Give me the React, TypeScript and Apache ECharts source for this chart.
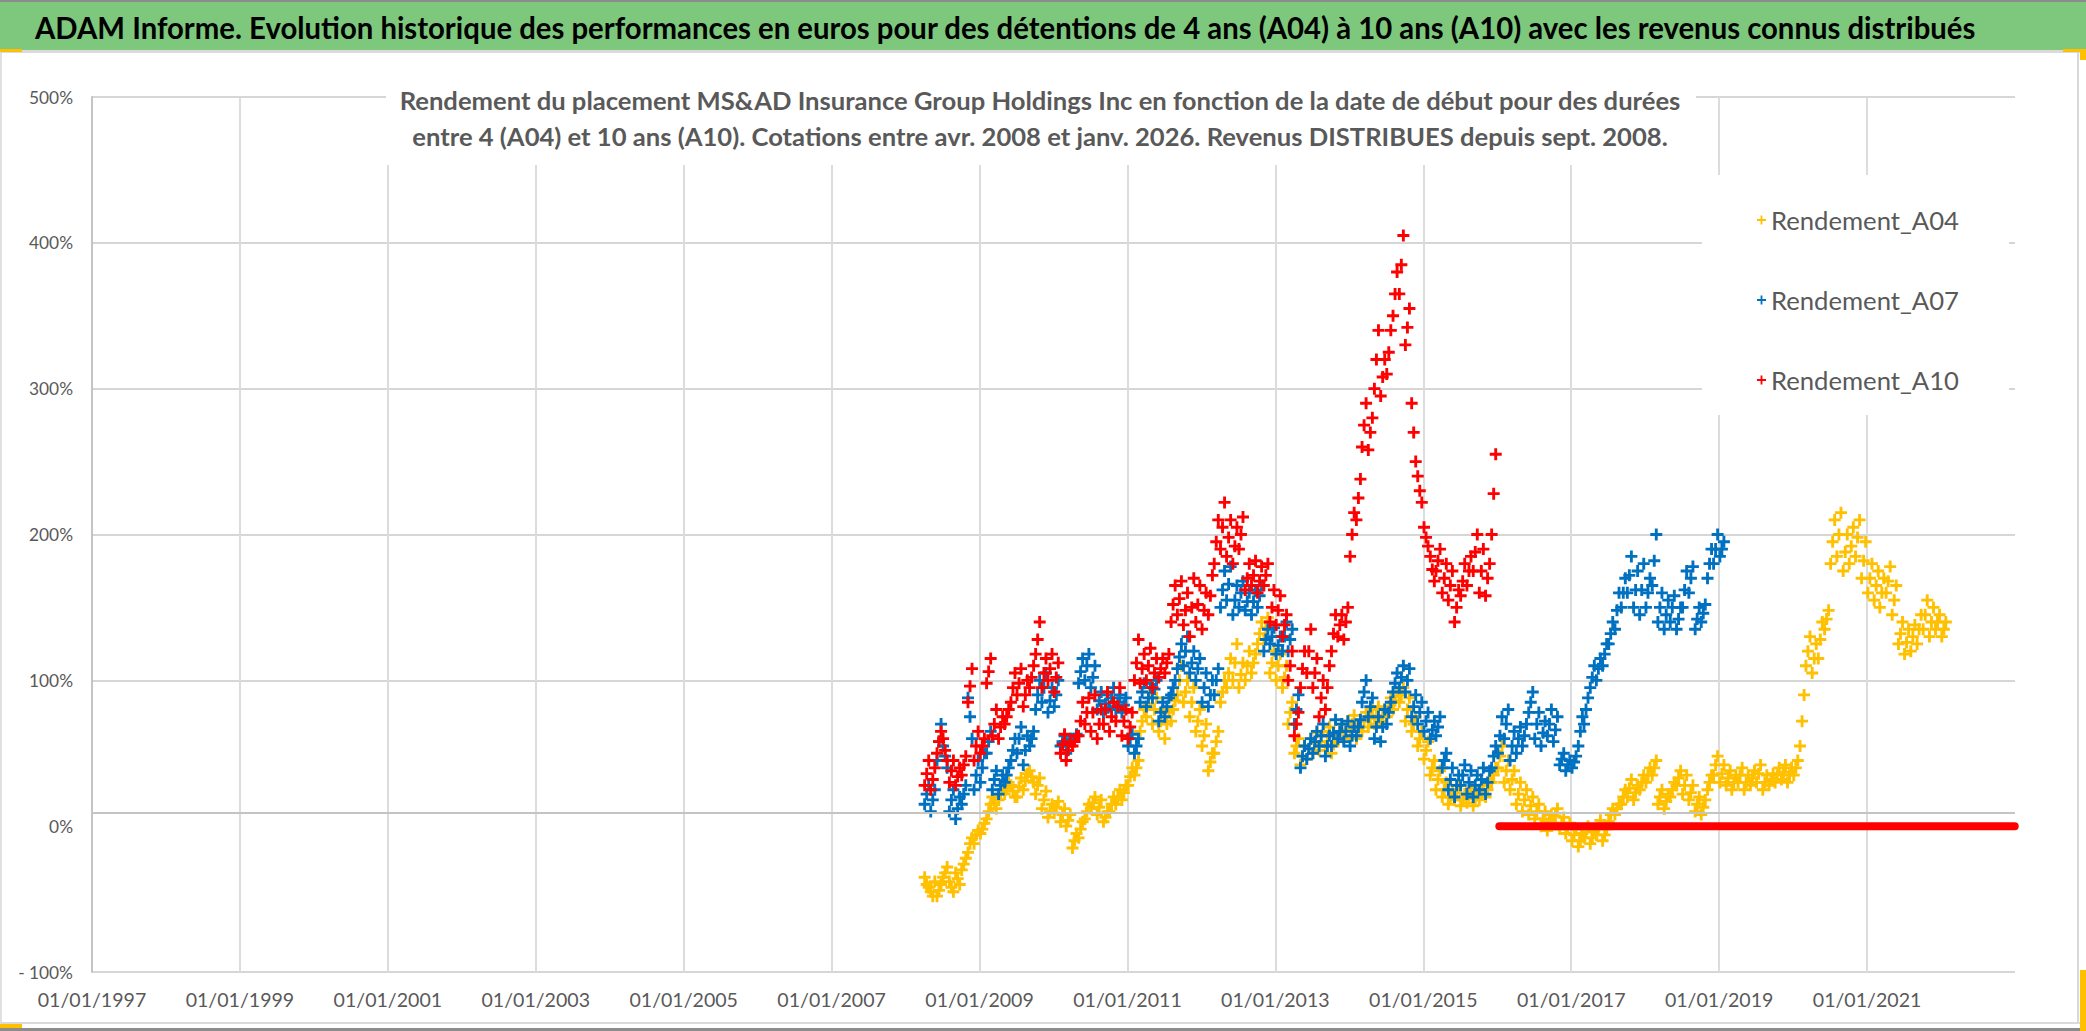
import React, { useEffect, useRef } from 'react';
import * as echarts from 'echarts';

// ---- data: month, then three readings (early / mid / late month), in % ----
type Row = [string, number, number, number];

const A04: Row[] = [
  ['2008-04', -35, -40, -42], ['2008-05', -45, -48, -38], ['2008-06', -48, -44, -40], ['2008-07', -35, -32, -28],
  ['2008-08', -38, -42, -45], ['2008-09', -32, -36, -40], ['2008-10', -30, -26, -22], ['2008-11', -18, -12, -8],
  ['2008-12', -12, -6, -3], ['2009-01', -5, -2, 2], ['2009-02', 5, 10, 15], ['2009-03', 20, 16, 12],
  ['2009-04', 18, 22, 25], ['2009-05', 22, 26, 30], ['2009-06', 28, 24, 20], ['2009-07', 20, 27, 33],
  ['2009-08', 25, 31, 36], ['2009-09', 38, 34, 30], ['2009-10', 22, 28, 33], ['2009-11', 12, 18, 24],
  ['2009-12', 6, 10, 15], ['2010-01', 9, 13, 17], ['2010-02', 3, 8, 12], ['2010-03', 0, 4, 8],
  ['2010-04', -15, -10, -5], ['2010-05', -8, -2, 3], ['2010-06', 5, 10, 15], ['2010-07', 12, 16, 20],
  ['2010-08', 8, 13, 18], ['2010-09', 3, 6, 10], ['2010-10', 10, 15, 20], ['2010-11', 15, 20, 25],
  ['2010-12', 18, 23, 28], ['2011-01', 28, 34, 40], ['2011-02', 35, 40, 45], ['2011-03', 65, 72, 80],
  ['2011-04', 75, 84, 92], ['2011-05', 70, 80, 88], ['2011-06', 65, 72, 80], ['2011-07', 60, 70, 78],
  ['2011-08', 72, 80, 86], ['2011-09', 90, 100, 110], ['2011-10', 85, 92, 100], ['2011-11', 75, 85, 95],
  ['2011-12', 65, 72, 80], ['2012-01', 55, 62, 70], ['2012-02', 38, 44, 50], ['2012-03', 50, 58, 65],
  ['2012-04', 85, 92, 100], ['2012-05', 95, 105, 115], ['2012-06', 100, 112, 125], ['2012-07', 95, 104, 112],
  ['2012-08', 100, 110, 120], ['2012-09', 105, 112, 118], ['2012-10', 125, 132, 140], ['2012-11', 128, 136, 143],
  ['2012-12', 105, 112, 120], ['2013-01', 100, 110, 118], ['2013-02', 95, 102, 110], ['2013-03', 70, 78, 85],
  ['2013-04', 50, 55, 60], ['2013-05', 42, 48, 55], ['2013-06', 46, 53, 60], ['2013-07', 50, 57, 64],
  ['2013-08', 52, 58, 65], ['2013-09', 55, 62, 68], ['2013-10', 50, 56, 62], ['2013-11', 58, 64, 70],
  ['2013-12', 60, 66, 72], ['2014-01', 62, 70, 76], ['2014-02', 60, 66, 72], ['2014-03', 65, 72, 78],
  ['2014-04', 68, 74, 80], ['2014-05', 70, 76, 82], ['2014-06', 72, 76, 80], ['2014-07', 75, 82, 88],
  ['2014-08', 80, 86, 92], ['2014-09', 85, 90, 95], ['2014-10', 72, 80, 88], ['2014-11', 65, 70, 75],
  ['2014-12', 55, 60, 65], ['2015-01', 46, 52, 58], ['2015-02', 35, 40, 45], ['2015-03', 25, 32, 38],
  ['2015-04', 20, 25, 30], ['2015-05', 15, 20, 25], ['2015-06', 18, 23, 28], ['2015-07', 14, 18, 22],
  ['2015-08', 16, 21, 26], ['2015-09', 14, 19, 24], ['2015-10', 18, 23, 28], ['2015-11', 20, 25, 30],
  ['2015-12', 30, 35, 40], ['2016-01', 40, 48, 55], ['2016-02', 30, 38, 45], ['2016-03', 25, 32, 38],
  ['2016-04', 15, 22, 30], ['2016-05', 10, 18, 25], ['2016-06', 8, 14, 20], ['2016-07', 5, 10, 15],
  ['2016-08', 0, 5, 10], ['2016-09', -3, 3, 8], ['2016-10', 2, 7, 12], ['2016-11', -2, 2, 6],
  ['2016-12', -5, -1, 2], ['2017-01', -10, -6, -2], ['2017-02', -14, -10, -5], ['2017-03', -8, -4, 0],
  ['2017-04', -12, -8, -3], ['2017-05', -6, -1, 4], ['2017-06', -10, -6, -2], ['2017-07', 3, 8, 12],
  ['2017-08', 8, 12, 15], ['2017-09', 15, 20, 25], ['2017-10', 20, 26, 32], ['2017-11', 18, 23, 28],
  ['2017-12', 25, 30, 35], ['2018-01', 30, 35, 40], ['2018-02', 35, 40, 45], ['2018-03', 15, 20, 25],
  ['2018-04', 12, 17, 22], ['2018-05', 20, 25, 30], ['2018-06', 28, 33, 38], ['2018-07', 22, 28, 35],
  ['2018-08', 18, 23, 28], ['2018-09', 10, 15, 20], ['2018-10', 8, 13, 18], ['2018-11', 25, 30, 35],
  ['2018-12', 35, 42, 48], ['2019-01', 30, 36, 42], ['2019-02', 28, 33, 38], ['2019-03', 25, 30, 35],
  ['2019-04', 30, 35, 40], ['2019-05', 25, 30, 35], ['2019-06', 28, 33, 38], ['2019-07', 30, 36, 42],
  ['2019-08', 25, 30, 35], ['2019-09', 28, 32, 36], ['2019-10', 30, 35, 40], ['2019-11', 32, 37, 42],
  ['2019-12', 30, 35, 40], ['2020-01', 35, 40, 45], ['2020-02', 55, 72, 90], ['2020-03', 110, 120, 130],
  ['2020-04', 105, 115, 125], ['2020-05', 115, 128, 140], ['2020-06', 135, 142, 148], ['2020-07', 180, 195, 210],
  ['2020-08', 185, 200, 215], ['2020-09', 175, 188, 200], ['2020-10', 180, 192, 205], ['2020-11', 185, 198, 210],
  ['2020-12', 170, 182, 195], ['2021-01', 160, 170, 180], ['2021-02', 155, 165, 175], ['2021-03', 150, 160, 170],
  ['2021-04', 160, 168, 178], ['2021-05', 145, 155, 165], ['2021-06', 125, 132, 140], ['2021-07', 118, 126, 135],
  ['2021-08', 120, 130, 138], ['2021-09', 125, 135, 145], ['2021-10', 135, 145, 155], ['2021-11', 130, 140, 150],
  ['2021-12', 135, 140, 145], ['2022-01', 130, 135, 140],
];

const A07: Row[] = [
  ['2008-04', 15, 22, 28], ['2008-05', 10, 18, 25], ['2008-06', 45, 58, 70], ['2008-07', 55, 48, 40],
  ['2008-08', 10, 18, 25], ['2008-09', 5, 12, 20], ['2008-10', 15, 22, 28], ['2008-11', 88, 75, 60],
  ['2008-12', 25, 35, 45], ['2009-01', 30, 40, 50], ['2009-02', 50, 58, 65], ['2009-03', 25, 32, 38],
  ['2009-04', 22, 28, 35], ['2009-05', 30, 35, 40], ['2009-06', 45, 52, 60], ['2009-07', 50, 60, 68],
  ['2009-08', 42, 52, 62], ['2009-09', 55, 60, 65], ['2009-10', 80, 90, 100], ['2009-11', 85, 95, 105],
  ['2009-12', 78, 86, 95], ['2010-01', 82, 90, 100], ['2010-02', 55, 58, 62], ['2010-03', 50, 55, 60],
  ['2010-04', 58, 60, 63], ['2010-05', 98, 106, 115], ['2010-06', 100, 110, 118], ['2010-07', 95, 102, 110],
  ['2010-08', 80, 86, 92], ['2010-09', 78, 84, 90], ['2010-10', 82, 88, 95], ['2010-11', 80, 85, 90],
  ['2010-12', 78, 83, 88], ['2011-01', 55, 60, 63], ['2011-02', 50, 55, 60], ['2011-03', 85, 92, 98],
  ['2011-04', 82, 88, 95], ['2011-05', 88, 94, 100], ['2011-06', 72, 78, 85], ['2011-07', 75, 82, 88],
  ['2011-08', 90, 95, 100], ['2011-09', 108, 116, 125], ['2011-10', 110, 120, 130], ['2011-11', 105, 112, 120],
  ['2011-12', 100, 108, 115], ['2012-01', 85, 95, 105], ['2012-02', 82, 90, 100], ['2012-03', 90, 100, 108],
  ['2012-04', 150, 162, 175], ['2012-05', 155, 166, 178], ['2012-06', 145, 155, 165], ['2012-07', 150, 160, 168],
  ['2012-08', 148, 154, 160], ['2012-09', 145, 154, 162], ['2012-10', 150, 158, 165], ['2012-11', 120, 128, 135],
  ['2012-12', 125, 130, 136], ['2013-01', 118, 124, 130], ['2013-02', 120, 130, 140], ['2013-03', 120, 128, 135],
  ['2013-04', 70, 80, 90], ['2013-05', 40, 48, 55], ['2013-06', 46, 53, 60], ['2013-07', 50, 58, 65],
  ['2013-08', 55, 62, 70], ['2013-09', 48, 55, 62], ['2013-10', 55, 64, 73], ['2013-11', 60, 65, 70],
  ['2013-12', 58, 65, 72], ['2014-01', 55, 62, 68], ['2014-02', 62, 68, 73], ['2014-03', 85, 92, 100],
  ['2014-04', 75, 82, 88], ['2014-05', 60, 68, 75], ['2014-06', 58, 68, 80], ['2014-07', 70, 78, 85],
  ['2014-08', 92, 98, 105], ['2014-09', 95, 102, 110], ['2014-10', 92, 100, 108], ['2014-11', 75, 82, 90],
  ['2014-12', 70, 78, 85], ['2015-01', 65, 72, 78], ['2015-02', 60, 66, 72], ['2015-03', 62, 68, 75],
  ['2015-04', 40, 45, 50], ['2015-05', 25, 32, 40], ['2015-06', 20, 28, 35], ['2015-07', 28, 35, 42],
  ['2015-08', 22, 30, 38], ['2015-09', 20, 28, 35], ['2015-10', 25, 32, 40], ['2015-11', 22, 30, 38],
  ['2015-12', 40, 48, 55], ['2016-01', 50, 62, 75], ['2016-02', 60, 70, 80], ['2016-03', 45, 55, 65],
  ['2016-04', 50, 60, 68], ['2016-05', 55, 62, 70], ['2016-06', 78, 85, 92], ['2016-07', 60, 70, 78],
  ['2016-08', 55, 64, 72], ['2016-09', 62, 70, 80], ['2016-10', 58, 66, 75], ['2016-11', 42, 46, 50],
  ['2016-12', 38, 42, 45], ['2017-01', 40, 44, 48], ['2017-02', 55, 65, 75], ['2017-03', 70, 80, 88],
  ['2017-04', 95, 102, 110], ['2017-05', 100, 108, 115], ['2017-06', 110, 118, 125], ['2017-07', 125, 132, 140],
  ['2017-08', 135, 148, 160], ['2017-09', 150, 160, 170], ['2017-10', 160, 172, 185], ['2017-11', 150, 162, 175],
  ['2017-12', 145, 162, 180], ['2018-01', 150, 160, 170], ['2018-02', 165, 182, 200], ['2018-03', 140, 150, 160],
  ['2018-04', 135, 145, 155], ['2018-05', 140, 150, 158], ['2018-06', 135, 142, 150], ['2018-07', 150, 162, 175],
  ['2018-08', 160, 170, 178], ['2018-09', 135, 142, 150], ['2018-10', 140, 146, 152], ['2018-11', 170, 180, 190],
  ['2018-12', 180, 190, 200], ['2019-01', 185, 190, 195],
];

const A10: Row[] = [
  ['2008-04', 28, 36, 45], ['2008-05', 25, 32, 40], ['2008-06', 50, 58, 65], ['2008-07', 60, 52, 45],
  ['2008-08', 30, 38, 45], ['2008-09', 28, 34, 40], ['2008-10', 35, 42, 48], ['2008-11', 85, 96, 108],
  ['2008-12', 45, 55, 65], ['2009-01', 50, 55, 60], ['2009-02', 98, 106, 115], ['2009-03', 62, 70, 80],
  ['2009-04', 60, 68, 75], ['2009-05', 70, 75, 80], ['2009-06', 85, 95, 105], ['2009-07', 90, 98, 108],
  ['2009-08', 82, 90, 100], ['2009-09', 95, 102, 110], ['2009-10', 118, 128, 140], ['2009-11', 95, 105, 115],
  ['2009-12', 100, 108, 118], ['2010-01', 92, 102, 112], ['2010-02', 50, 56, 63], ['2010-03', 45, 52, 58],
  ['2010-04', 55, 58, 62], ['2010-05', 62, 72, 85], ['2010-06', 70, 78, 88], ['2010-07', 65, 78, 90],
  ['2010-08', 60, 70, 80], ['2010-09', 70, 80, 92], ['2010-10', 65, 75, 85], ['2010-11', 72, 82, 95],
  ['2010-12', 62, 72, 80], ['2011-01', 60, 68, 78], ['2011-02', 100, 112, 128], ['2011-03', 98, 108, 118],
  ['2011-04', 100, 110, 122], ['2011-05', 95, 105, 115], ['2011-06', 102, 108, 115], ['2011-07', 105, 112, 118],
  ['2011-08', 140, 152, 165], ['2011-09', 145, 156, 168], ['2011-10', 138, 148, 160], ['2011-11', 130, 150, 170],
  ['2011-12', 140, 152, 165], ['2012-01', 135, 148, 160], ['2012-02', 145, 158, 172], ['2012-03', 180, 195, 210],
  ['2012-04', 190, 205, 222], ['2012-05', 185, 198, 210], ['2012-06', 180, 192, 205], ['2012-07', 190, 200, 212],
  ['2012-08', 162, 170, 180], ['2012-09', 165, 172, 182], ['2012-10', 160, 168, 178], ['2012-11', 165, 172, 180],
  ['2012-12', 140, 150, 162], ['2013-01', 138, 148, 158], ['2013-02', 130, 138, 145], ['2013-03', 100, 110, 120],
  ['2013-04', 62, 70, 78], ['2013-05', 95, 108, 120], ['2013-06', 105, 120, 135], ['2013-07', 95, 105, 115],
  ['2013-08', 75, 88, 100], ['2013-09', 80, 95, 110], ['2013-10', 120, 132, 145], ['2013-11', 130, 138, 145],
  ['2013-12', 128, 140, 150], ['2014-01', 185, 200, 215], ['2014-02', 210, 225, 238], ['2014-03', 260, 275, 290],
  ['2014-04', 258, 270, 280], ['2014-05', 300, 320, 340], ['2014-06', 295, 308, 320], ['2014-07', 310, 325, 340],
  ['2014-08', 350, 365, 380], ['2014-09', 365, 385, 405], ['2014-10', 330, 342, 355], ['2014-11', 290, 270, 250],
  ['2014-12', 240, 230, 222], ['2015-01', 205, 198, 192], ['2015-02', 185, 176, 168], ['2015-03', 175, 182, 190],
  ['2015-04', 160, 170, 180], ['2015-05', 155, 165, 175], ['2015-06', 140, 150, 162], ['2015-07', 158, 168, 180],
  ['2015-08', 165, 175, 185], ['2015-09', 175, 188, 200], ['2015-10', 160, 175, 190], ['2015-11', 158, 170, 180],
  ['2015-12', 200, 228, 255],
];

// A10 shown as 0 % from its last start date to the end of the axis
const A10_ZERO_FROM = '2016-01-12';
const A10_ZERO_TO = '2022-12-31';
const AXIS_CROSS_VALUE = 9;

const SERIES_NAMES = ['Rendement_A04', 'Rendement_A07', 'Rendement_A10'];
const SERIES_COLORS = ['#FFC000', '#0070C0', '#FF0000'];
const FIRST_YEAR = 1997;
const YEAR_SPAN = 26;
const Y_MIN = -100;
const Y_MAX = 500;
const Y_STEP = 100;

const TITLE = 'ADAM Informe. Evolution historique des performances en euros pour des détentions de 4 ans (A04) à 10 ans (A10) avec les revenus connus distribués';
const SUBTITLE_1 = 'Rendement du placement MS&AD Insurance Group Holdings Inc en fonction de la date de début pour des durées';
const SUBTITLE_2 = 'entre 4 (A04) et 10 ans (A10). Cotations entre avr. 2008 et janv. 2026. Revenus DISTRIBUES depuis sept. 2008.';

const FONT = 'Lato, "Noto Sans", sans-serif';
const PLUS = 'path://M3.8,0H6.2V3.8H10V6.2H6.2V10H3.8V6.2H0V3.8H3.8Z';
const PLUS_THIN = 'path://M4,0H6V4H10V6H6V10H4V6H0V4H4Z';

function toX(d: string): number {
  const [y, m, dd] = d.split('-').map(Number);
  return (Date.UTC(y, m - 1, dd) - Date.UTC(FIRST_YEAR, 0, 1)) / (365.25 * 86400000);
}

function toPoints(rows: Row[]): number[][] {
  const out: number[][] = [];
  rows.forEach(([m, a, b, c]) => {
    out.push([toX(m + '-05'), a]);
    out.push([toX(m + '-15'), b]);
    out.push([toX(m + '-25'), c]);
  });
  return out;
}

function measure(font: string, text: string): number {
  const ctx = document.createElement('canvas').getContext('2d');
  if (!ctx) return 1;
  ctx.font = font;
  return ctx.measureText(text).width || 1;
}

export default function App() {
  const ref = useRef<HTMLDivElement>(null);

  useEffect(() => {
    document.body.style.margin = '0';
    if (!ref.current) return;
    const chart = echarts.init(ref.current, null, { renderer: 'svg' });

    // sizes fitted to the reference text widths
    const titleScale = 1943 / measure('bold 31px Lato', TITLE);
    const subScale = 1281 / measure('bold 25px Lato', SUBTITLE_1);
    const legendSize = (30 * 188) / measure('30px Lato', 'Rendement_A04');
    const xLabelSize = (1.12 * 22 * 97) / measure('22px Lato', '01/01/1997');
    const yLabelSize = (22 * 44) / measure('22px Lato', '500%');

    const yCount = (Y_MAX - Y_MIN) / Y_STEP + 1;
    const yColors: string[] = [];
    for (let i = 0; i < yCount; i++) {
      yColors.push(Y_MIN + i * Y_STEP === 0 ? 'rgba(0,0,0,0)' : '#d6d6d6');
    }

    const scatter = (name: string, color: string, rows: Row[]) => ({
      name,
      type: 'scatter',
      symbol: PLUS,
      symbolSize: 12,
      itemStyle: { color, opacity: 1 },
      data: toPoints(rows),
      silent: true,
    });

    const option: any = {
      animation: false,
      backgroundColor: '#ffffff',
      legend: {
        data: SERIES_NAMES,
        orient: 'vertical',
        left: 1702,
        top: 175,
        padding: [30, 50, 20, 55],
        itemGap: 50,
        itemWidth: 9,
        itemHeight: 9,
        icon: PLUS_THIN,
        backgroundColor: '#ffffff',
        textStyle: { fontFamily: FONT, fontSize: legendSize, color: '#595959', lineHeight: 30 },
      },
      grid: { left: 92, right: 71, top: 97, bottom: 59, containLabel: false },
      xAxis: {
        type: 'value',
        min: 0,
        max: YEAR_SPAN,
        interval: 2,
        axisLine: { show: false },
        axisTick: { show: false },
        axisLabel: {
          fontFamily: FONT,
          fontSize: xLabelSize,
          color: '#595959',
          margin: 17,
          showMaxLabel: false,
          formatter: (v: number) => (v < YEAR_SPAN ? '01/01/' + (FIRST_YEAR + v) : ''),
        },
        splitLine: {
          show: true,
          showMinLine: false,
          showMaxLine: false,
          lineStyle: { color: '#dcdcdc', width: 2 },
        },
      },
      yAxis: {
        type: 'value',
        min: Y_MIN,
        max: Y_MAX,
        interval: Y_STEP,
        axisLine: { show: true, lineStyle: { color: '#c4c4c4', width: 2 } },
        axisTick: { show: false },
        axisLabel: {
          fontFamily: FONT,
          fontSize: yLabelSize,
          color: '#595959',
          margin: 19,
          formatter: (v: number) => (v < 0 ? '- ' + Math.abs(v) + '%' : v + '%'),
        },
        splitLine: { show: true, lineStyle: { color: yColors, width: 2 } },
      },
      series: [
        scatter(SERIES_NAMES[0], SERIES_COLORS[0], A04),
        scatter(SERIES_NAMES[1], SERIES_COLORS[1], A07),
        scatter(SERIES_NAMES[2], SERIES_COLORS[2], A10),
        {
          name: 'A10_zero',
          type: 'line',
          symbol: 'none',
          silent: true,
          z: 3,
          lineStyle: { color: SERIES_COLORS[2], width: 8, cap: 'round' },
          data: [[toX(A10_ZERO_FROM), 0], [toX(A10_ZERO_TO), 0]],
          markLine: {
            silent: true,
            symbol: ['none', 'none'],
            label: { show: false },
            lineStyle: { color: '#c4c4c4', width: 2, type: 'solid' },
            data: [{ yAxis: AXIS_CROSS_VALUE }],
          },
        },
      ],
      graphic: [
        { type: 'rect', z: 100, shape: { x: 0, y: 0, width: 2086, height: 2 }, style: { fill: '#8c8c8c' }, silent: true },
        { type: 'rect', z: 100, shape: { x: 0, y: 2, width: 2086, height: 48 }, style: { fill: '#7DC87D' }, silent: true },
        { type: 'rect', z: 100, shape: { x: 0, y: 50, width: 2086, height: 3 }, style: { fill: '#dadada' }, silent: true },
        { type: 'rect', z: 100, shape: { x: 0, y: 53, width: 2, height: 975 }, style: { fill: '#e0e0e0' }, silent: true },
        { type: 'rect', z: 100, shape: { x: 2077, y: 53, width: 2, height: 970 }, style: { fill: '#d8d8d8' }, silent: true },
        { type: 'rect', z: 100, shape: { x: 0, y: 1022, width: 2086, height: 2 }, style: { fill: '#dadada' }, silent: true },
        { type: 'rect', z: 100, shape: { x: 0, y: 1028, width: 2086, height: 3 }, style: { fill: '#8c8c8c' }, silent: true },
        { type: 'rect', z: 100, shape: { x: 0, y: 49, width: 22, height: 3 }, style: { fill: '#FFC000' }, silent: true },
        { type: 'rect', z: 100, shape: { x: 2063, y: 49, width: 23, height: 3 }, style: { fill: '#FFC000' }, silent: true },
        { type: 'rect', z: 100, shape: { x: 2080, y: 49, width: 6, height: 11 }, style: { fill: '#FFC000' }, silent: true },
        { type: 'rect', z: 100, shape: { x: 0, y: 1024, width: 22, height: 4 }, style: { fill: '#FFC000' }, silent: true },
        { type: 'rect', z: 100, shape: { x: 2080, y: 970, width: 6, height: 61 }, style: { fill: '#FFC000' }, silent: true },
        {
          type: 'text',
          z: 101,
          x: 35,
          y: 27,
          scaleX: titleScale,
          silent: true,
          style: {
            text: TITLE,
            fill: '#000000',
            fontFamily: 'Lato',
            fontSize: 31,
            fontWeight: 'bold',
            verticalAlign: 'middle',
            textAlign: 'left',
          },
        },
        { type: 'rect', z: 100, shape: { x: 386, y: 60, width: 1310, height: 105 }, style: { fill: '#ffffff' }, silent: true },
        {
          type: 'text',
          z: 101,
          x: 1040,
          y: 100,
          scaleX: subScale,
          silent: true,
          style: {
            text: SUBTITLE_1,
            fill: '#595959',
            fontFamily: 'Lato',
            fontSize: 25,
            fontWeight: 'bold',
            verticalAlign: 'middle',
            textAlign: 'center',
          },
        },
        {
          type: 'text',
          z: 101,
          x: 1040,
          y: 136,
          scaleX: subScale,
          silent: true,
          style: {
            text: SUBTITLE_2,
            fill: '#595959',
            fontFamily: 'Lato',
            fontSize: 25,
            fontWeight: 'bold',
            verticalAlign: 'middle',
            textAlign: 'center',
          },
        },
      ],
    };

    chart.setOption(option);
    return () => chart.dispose();
  }, []);

  return <div ref={ref} style={{ width: 2086, height: 1031 }} />;
}
